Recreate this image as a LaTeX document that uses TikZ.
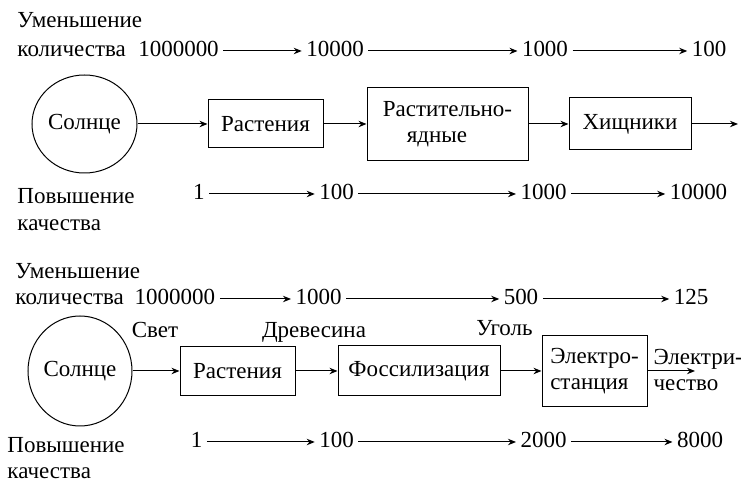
\documentclass[tikz,border=0pt]{standalone}
\usepackage{fontspec}
\setmainfont{Liberation Serif}
\usetikzlibrary{arrows.meta,shapes.geometric}

\begin{document}
\begin{tikzpicture}[x=0.5pt, y=-0.5pt, line width=0.5pt,
    >={Stealth[length=4pt,width=3.2pt]},
    font=\rmfamily\fontsize{11.5}{13}\selectfont,
    txt/.style={inner sep=1pt, text height=1.6ex, text depth=0.3ex},
    num/.style={txt, inner sep=2pt},
    box/.style={draw, rectangle, align=center, inner sep=2pt},
    sun/.style={draw, ellipse, inner sep=0pt}]
    \useasboundingbox (0,0) rectangle (741,481);

    % Food chain: labels
    \node[txt, anchor=west] (decA) at (15,22) {Уменьшение};
    \node[txt, anchor=west] (qtyA) at (15,51) {количества};
    \node[txt, anchor=west] (incA) at (15,198) {Повышение};
    \node[txt, anchor=west] (qalA) at (15,225) {качества};

    % Food chain: quantity
    \node[num] (qa1) at (178.5,51) {1000000};
    \node[num] (qa2) at (335,51) {10000};
    \node[num] (qa3) at (545,51) {1000};
    \node[num] (qa4) at (709,51) {100};
    \draw[->] (qa1) -- (qa2);
    \draw[->] (qa2) -- (qa3);
    \draw[->] (qa3) -- (qa4);

    % Food chain: blocks
    \node[sun, minimum width=52.5pt, minimum height=49pt] (sunA) at (84.5,124) {Солнце};
    \node[box, minimum width=57.5pt, minimum height=24pt] (plantA) at (265.5,124) {Растения};
    \node[box, align=left, minimum width=80.5pt, minimum height=36.5pt] (herb) at (447.5,124) {Растительно-\\\hspace*{12pt}ядные};
    \node[box, minimum width=61pt, minimum height=26pt] (pred) at (630,124) {Хищники};
    \coordinate (outA) at (738,124);
    \draw[->] (sunA) -- (plantA);
    \draw[->] (plantA) -- (herb);
    \draw[->] (herb) -- (pred);
    \draw[->] (pred) -- (outA);

    % Food chain: quality
    \node[num] (ka1) at (199,194) {1};
    \node[num] (ka2) at (336.5,194) {100};
    \node[num] (ka3) at (543.5,194) {1000};
    \node[num] (ka4) at (698.5,194) {10000};
    \draw[->] (ka1) -- (ka2);
    \draw[->] (ka2) -- (ka3);
    \draw[->] (ka3) -- (ka4);

    % Energy chain: labels
    \node[txt, anchor=west] (decB) at (13,273) {Уменьшение};
    \node[txt, anchor=west] (qtyB) at (13,299) {количества};
    \node[txt, anchor=west] (incB) at (5,447) {Повышение};
    \node[txt, anchor=west] (qalB) at (5,473) {качества};

    % Energy chain: quantity
    \node[num] (qb1) at (175,299) {1000000};
    \node[num] (qb2) at (318.5,299) {1000};
    \node[num] (qb3) at (521,299) {500};
    \node[num] (qb4) at (691,299) {125};
    \draw[->] (qb1) -- (qb2);
    \draw[->] (qb2) -- (qb3);
    \draw[->] (qb3) -- (qb4);

    % Energy chain: blocks
    \node[sun, minimum width=52pt, minimum height=55pt] (sunB) at (80,371) {Солнце};
    \node[box, minimum width=57.5pt, minimum height=24.5pt] (plantB) at (237.5,371) {Растения};
    \node[box, minimum width=81pt, minimum height=25pt] (fossil) at (419,371) {Фоссилизация};
    \node[box, align=left, minimum width=52.5pt, minimum height=35.5pt] (plant) at (594.5,371) {Электро-\\станция};
    \coordinate (outB) at (695,371);
    \draw[->] (sunB) -- (plantB);
    \draw[->] (plantB) -- (fossil);
    \draw[->] (fossil) -- (plant);
    \draw[->] (plant) -- (outB);

    % Energy chain: carriers
    \node[txt] (light) at (155,332) {Свет};
    \node[txt] (wood) at (314,332) {Древесина};
    \node[txt] (coal) at (504.5,330) {Уголь};
    \node[align=left, anchor=west, inner sep=1pt] (elec) at (651,370) {Электри-\\чество};

    % Energy chain: quality
    \node[num] (kb1) at (196.5,442) {1};
    \node[num] (kb2) at (336.5,442) {100};
    \node[num] (kb3) at (543.5,442) {2000};
    \node[num] (kb4) at (700,442) {8000};
    \draw[->] (kb1) -- (kb2);
    \draw[->] (kb2) -- (kb3);
    \draw[->] (kb3) -- (kb4);
\end{tikzpicture}
\end{document}
